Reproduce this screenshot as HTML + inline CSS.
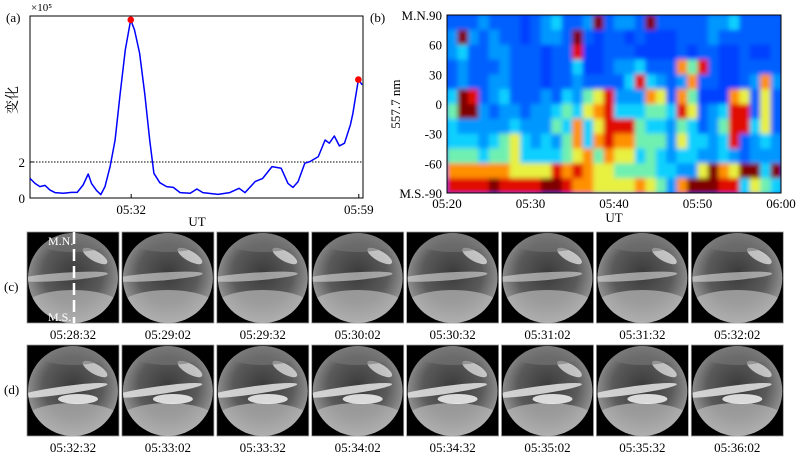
<!DOCTYPE html>
<html><head><meta charset="utf-8"><style>
body{margin:0;background:#fff;}
svg text{font-family:"Liberation Serif","Noto Serif CJK SC",serif;fill:#000;}
</style></head><body>
<svg id="fig" width="800" height="455" viewBox="0 0 800 455" xmlns="http://www.w3.org/2000/svg">
<defs>
<filter id="hblur" filterUnits="userSpaceOnUse" x="440" y="8" width="350" height="195"><feGaussianBlur stdDeviation="2.5"/></filter>
<clipPath id="hclip"><rect x="447" y="15" width="334" height="178"/></clipPath>
<radialGradient id="sky" cx="50%" cy="45%" r="55%">
<stop offset="0" stop-color="#3a3a3a"/><stop offset="0.6" stop-color="#5a5a5a"/><stop offset="1" stop-color="#9a9a9a"/></radialGradient>
</defs>
<g id="panelA"></g>
<g id="panelB"></g>
<g id="panelC"></g>
</svg>
<script>
const NS="http://www.w3.org/2000/svg";
const svg=document.getElementById('fig');
function mk(tag,attrs,parent,text){const e=document.createElementNS(NS,tag);for(const k in attrs)e.setAttribute(k,attrs[k]);if(text!==undefined)e.textContent=text;(parent||svg).appendChild(e);return e;}

// ---------- Panel (a) data ----------
const aTimes=[20.0,20.59,21.18,21.78,22.37,22.96,23.95,24.94,25.6,26.3,26.9,27.3,27.9,28.4,28.9,29.5,30.1,30.7,31.3,31.95,32.4,33.0,33.6,34.2,34.7,35.4,36.2,37.0,37.8,39.0,39.8,40.5,42.3,43.7,44.8,45.5,46.7,47.6,48.7,49.8,50.6,51.2,51.8,52.6,53.2,54.2,55.0,55.5,56.1,56.7,57.3,58.0,58.3,58.95,59.4];
const aValues=[1.09,0.81,0.63,0.70,0.44,0.30,0.26,0.31,0.31,0.72,1.33,0.81,0.41,0.19,0.63,1.74,3.22,5.81,8.22,9.89,9.33,8.04,5.81,3.22,1.37,0.85,0.63,0.59,0.30,0.26,0.50,0.30,0.20,0.30,0.54,0.30,0.91,1.09,1.74,1.65,0.81,0.59,0.91,1.93,2.02,2.30,3.22,3.04,3.44,2.89,3.04,4.06,4.70,6.57,6.28];
const aPeaks=[[31.95,9.89],[58.95,6.57]];
const aYTicks=[0,2];
const aXTicks=[[32,'05:32'],[59,'05:59']];
const aThreshold=2;

const A={x0:30,x1:363,y0:16,y1:198,t0:20,t1:59.5,v1:10.1};
const ax=t=>A.x0+(t-A.t0)/(A.t1-A.t0)*(A.x1-A.x0);
const ay=v=>A.y1-v/A.v1*(A.y1-A.y0);
const pa=document.getElementById('panelA');
let e;
e=mk('rect',{x:A.x0,y:A.y0,width:A.x1-A.x0,height:A.y1-A.y0,fill:'none',stroke:'#000','stroke-width':1},pa);

e=mk('line',{x1:A.x0,x2:A.x1,y1:ay(aThreshold),y2:ay(aThreshold),stroke:'#000','stroke-width':1,'stroke-dasharray':'1.5,1.5'},pa);

e=mk('polyline',{points:aTimes.map((t,i)=>ax(t).toFixed(1)+','+ay(aValues[i]).toFixed(1)).join(' '),fill:'none',stroke:'#0000ff','stroke-width':1.5,'stroke-linejoin':'round'},pa);

aPeaks.forEach(p=>{const c=mk('circle',{cx:ax(p[0]),cy:ay(p[1]),r:3.3,fill:'#ff0000'},pa);
});
aYTicks.forEach(v=>{mk('line',{x1:A.x0,x2:A.x0+4,y1:ay(v),y2:ay(v),stroke:'#000'},pa);
const t=mk('text',{x:A.x0-5,y:ay(v)+5,'font-size':13,'text-anchor':'end'},pa,String(v));
});
aXTicks.forEach(k=>{mk('line',{x1:ax(k[0]),x2:ax(k[0]),y1:A.y1,y2:A.y1-4,stroke:'#000'},pa);
const t=mk('text',{x:ax(k[0]),y:214,'font-size':13,'text-anchor':'middle'},pa,k[1]);
});
e=mk('text',{x:197,y:226,'font-size':13,'text-anchor':'middle'},pa,'UT');
e=mk('text',{x:6,y:22,'font-size':13},pa,'(a)');
e=mk('text',{x:31,y:11,'font-size':11},pa,'×10⁵');
e=mk('text',{x:0,y:0,'font-size':14,'text-anchor':'middle',transform:'translate(17,100) rotate(-90)'},pa,'变化');

// ---------- Panel (b) keogram data (rows: 90 -> -90, columns: 05:20 -> 06:00) ----------
const bRows=[
"22232221234223923329222223342222",
"39323221233292122121112223222222",
"34223322212281122211112122112112",
"23222322212241123342227582112222",
"23223322212232222484323722112373",
"49823422232435683337627511176262",
"59932332334546784445548623488262",
"43333343335474688854435423588462",
"44434564343574787755536443482343",
"55545564444567576645434433432333",
"77777766668787665555443369769949",
"88889888899877666676537999884654"];
const bYTicks=[[90,'M.N.90'],[60,'60'],[30,'30'],[0,'0'],[-30,'-30'],[-60,'-60'],[-90,'M.S.-90']];
const bXTicks=[[20,'05:20'],[30,'05:30'],[40,'05:40'],[50,'05:50'],[60,'06:00']];
const jet=['#0020c0','#0040ff','#0060ff','#0098ff','#10d0ff','#70f0b0','#e8f040','#ff9000','#e01000','#800000'];

const B={x0:447,x1:781,y0:15,y1:193,t0:20,t1:60};
const bx=t=>B.x0+(t-B.t0)/(B.t1-B.t0)*(B.x1-B.x0);
const by=d=>B.y0+(90-d)/180*(B.y1-B.y0);
const pb=document.getElementById('panelB');
const hg=mk('g',{'clip-path':'url(#hclip)'},pb);
const hin=mk('g',{filter:'url(#hblur)'},hg);
mk('rect',{x:B.x0-6,y:B.y0-6,width:B.x1-B.x0+12,height:B.y1-B.y0+12,fill:jet[1]},hin);
bRows.forEach((row,r)=>{const n=row.length;const dlat=180/bRows.length;
for(let c=0;c<n;c++){const v=+row[c];const ta=B.t0+c*(B.t1-B.t0)/n,tb=B.t0+(c+1)*(B.t1-B.t0)/n;
const cell=mk('rect',{x:bx(ta),y:by(90-r*dlat),width:bx(tb)-bx(ta)+0.6,height:by(90-(r+1)*dlat)-by(90-r*dlat)+0.6,fill:jet[v]},hin);

}});
e=mk('rect',{x:B.x0,y:B.y0,width:B.x1-B.x0,height:B.y1-B.y0,fill:'none',stroke:'#000'},pb);
bYTicks.forEach(k=>{const t=mk('text',{x:B.x0-5,y:by(k[0])+5,'font-size':13,'text-anchor':'end'},pb,k[1]);
});
bXTicks.forEach(k=>{const t=mk('text',{x:bx(k[0]),y:208,'font-size':13,'text-anchor':'middle'},pb,k[1]);
});
e=mk('text',{x:614,y:222,'font-size':13,'text-anchor':'middle'},pb,'UT');
e=mk('text',{x:370,y:22,'font-size':13},pb,'(b)');
e=mk('text',{x:0,y:0,'font-size':13,'text-anchor':'middle',transform:'translate(400,104) rotate(-90)'},pb,'557.7 nm');

// ---------- Panels (c),(d) all-sky images ----------
const cLabels=['05:28:32','05:29:02','05:29:32','05:30:02','05:30:32','05:31:02','05:31:32','05:32:02'];
const dLabels=['05:32:32','05:33:02','05:33:32','05:34:02','05:34:32','05:35:02','05:35:32','05:36:02'];
const pc=document.getElementById('panelC');
function tile(x,y,label,i,row){
 const g=mk('g',{},pc);
 
 
 mk('rect',{x:x,y:y,width:92,height:91,fill:'#000',stroke:'#999','stroke-width':0.8},g);
 const cx=x+46,cy=y+46,r=45;
 mk('circle',{cx:cx,cy:cy,r:r,fill:'url(#sky)'},g);
 const clipId='cl'+row+i;const cp=mk('clipPath',{id:clipId},g);mk('circle',{cx:cx,cy:cy,r:r},cp);
 const tg=mk('g',{'clip-path':'url(#'+clipId+')'},g);
 mk('ellipse',{cx:cx,cy:cy+30,rx:50,ry:18,fill:'#b8b8b8',opacity:0.7},tg);
 mk('ellipse',{cx:cx-10,cy:cy-2,rx:45,ry:4,fill:'#ddd',opacity:row?0.9:0.6,transform:'rotate('+(row?-8:-4)+' '+cx+' '+cy+')'},tg);
 mk('ellipse',{cx:cx+22,cy:cy-22,rx:14,ry:5,fill:'#eee',opacity:0.7,transform:'rotate(30 '+(cx+22)+' '+(cy-22)+')'},tg);
 mk('ellipse',{cx:cx,cy:cy-36,rx:35,ry:10,fill:'#777',opacity:0.6},tg);
 if(row){mk('ellipse',{cx:cx+5,cy:cy+8,rx:20,ry:5,fill:'#fff',opacity:0.8},tg);}
 const t=mk('text',{x:cx,y:y+107,'font-size':13,'text-anchor':'middle'},g,label);
 
}
cLabels.forEach((l,i)=>tile(27+i*94.9,232,l,i,0));
dLabels.forEach((l,i)=>tile(27+i*94.9,345,l,i,1));
e=mk('line',{x1:74,x2:74,y1:232,y2:323,stroke:'#fff','stroke-width':2.5,'stroke-dasharray':'12,5'},pc);
e=mk('text',{x:48,y:245,'font-size':12,style:'fill:#fff'},pc,'M.N.');
e=mk('text',{x:48,y:321,'font-size':12,style:'fill:#fff'},pc,'M.S.');
e=mk('text',{x:4,y:291,'font-size':13},pc,'(c)');
e=mk('text',{x:4,y:394,'font-size':13},pc,'(d)');
</script>
</body></html>
